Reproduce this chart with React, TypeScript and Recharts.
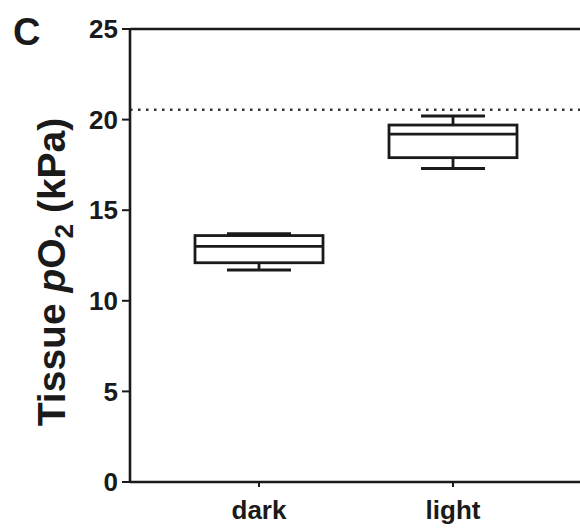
import React from 'react';
import { ComposedChart, Bar, XAxis, YAxis, ReferenceLine } from 'recharts';

const categories = ['dark', 'light'];
const whiskerLow = [11.7, 17.3];
const quartile1 = [12.1, 17.9];
const medians = [13.0, 19.2];
const quartile3 = [13.6, 19.7];
const whiskerHigh = [13.7, 20.2];
const referenceValue = 20.55;
const yTicks = [0, 5, 10, 15, 20, 25];

const data = categories.map((name, i) => ({
  name,
  range: [whiskerLow[i], whiskerHigh[i]],
  low: whiskerLow[i],
  q1: quartile1[i],
  median: medians[i],
  q3: quartile3[i],
  high: whiskerHigh[i],
}));

const FONT = '"Liberation Sans", Arial, Helvetica, sans-serif';
const INK = '#1a1a1a';

const BoxShape = (props: any) => {
  const { x, y, width, height, payload } = props;
  if (payload == null) return null;
  const ppu = height / (payload.high - payload.low);
  const toY = (v: number) => y + (payload.high - v) * ppu;
  const cx = x + width / 2;
  const capHalf = width / 4;
  const sw = 2.8;
  return (
    <g stroke={INK} strokeWidth={sw} fill="none">
      <line x1={cx} x2={cx} y1={toY(payload.high)} y2={toY(payload.q3)} />
      <line x1={cx} x2={cx} y1={toY(payload.q1)} y2={toY(payload.low)} />
      <line x1={cx - capHalf} x2={cx + capHalf} y1={toY(payload.high)} y2={toY(payload.high)} />
      <line x1={cx - capHalf} x2={cx + capHalf} y1={toY(payload.low)} y2={toY(payload.low)} />
      <rect x={x} y={toY(payload.q3)} width={width} height={toY(payload.q1) - toY(payload.q3)} fill="#fff" />
      <line x1={x} x2={x + width} y1={toY(payload.median)} y2={toY(payload.median)} />
    </g>
  );
};

const YLabel = (props: any) => {
  const vb = props.viewBox || { x: 0, y: 0, width: 0, height: 0 };
  const lx = vb.x + 65;
  const ly = 272;
  return (
    <g>
      <text x={13} y={45} fontFamily={FONT} fontWeight="bold" fontSize={38} fill={INK}>C</text>
      <text
        x={lx}
        y={ly}
        transform={`rotate(-90, ${lx}, ${ly})`}
        textAnchor="middle"
        fontFamily={FONT}
        fontWeight="bold"
        fontSize={39}
        fill={INK}
      >
        <tspan>Tissue </tspan>
        <tspan fontStyle="italic">p</tspan>
        <tspan>O</tspan>
        <tspan dy={8} fontSize={26}>2</tspan>
        <tspan dy={-8}> (kPa)</tspan>
      </text>
    </g>
  );
};

export default function App() {
  return (
    <div style={{ position: 'absolute', left: 0, top: 0, background: '#fff' }}>
      <ComposedChart
        width={580}
        height={532}
        data={data}
        margin={{ top: 29, right: 0, bottom: 0, left: 0 }}
      >
        <XAxis
          dataKey="name"
          type="category"
          padding={{ left: 32, right: 30 }}
          height={50}
          tickSize={5}
          tickMargin={14}
          axisLine={{ stroke: INK, strokeWidth: 2.6 }}
          tickLine={{ stroke: INK, strokeWidth: 2 }}
          tick={{ fill: INK, fontSize: 26, fontWeight: 'bold', fontFamily: FONT }}
        />
        <YAxis
          type="number"
          domain={[0, 25]}
          ticks={yTicks}
          width={130}
          tickSize={8}
          tickMargin={4}
          axisLine={{ stroke: INK, strokeWidth: 2.6 }}
          tickLine={{ stroke: INK, strokeWidth: 2 }}
          tick={{ fill: INK, fontSize: 26, fontWeight: 'bold', fontFamily: FONT }}
          label={<YLabel />}
        />
        <ReferenceLine y={25} stroke={INK} strokeWidth={2.6} ifOverflow="visible" />
        <ReferenceLine
          y={referenceValue}
          stroke="#333"
          strokeWidth={2.5}
          strokeDasharray="2.5 5.5"
        />
        <Bar
          dataKey="range"
          barSize={128}
          shape={<BoxShape />}
          isAnimationActive={false}
          activeBar={false}
        />
      </ComposedChart>
    </div>
  );
}
